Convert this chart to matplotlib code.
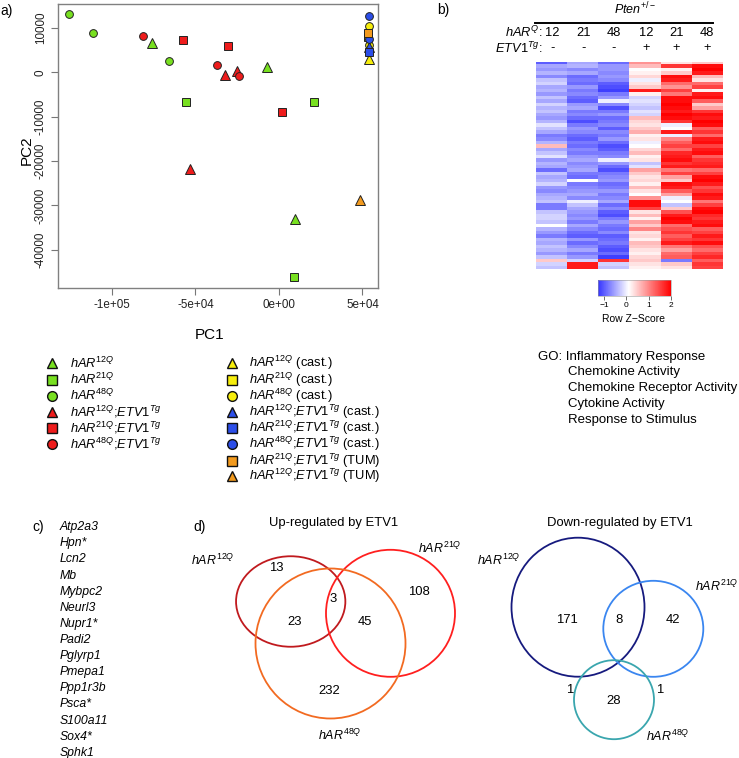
import numpy as np
import matplotlib
matplotlib.use('Agg')
import matplotlib.pyplot as plt
from matplotlib.patches import Ellipse
from matplotlib.colors import LinearSegmentedColormap, Normalize

plt.rcParams['font.family'] = ['Liberation Sans', 'DejaVu Sans']
plt.rcParams['mathtext.fontset'] = 'custom'
plt.rcParams['mathtext.rm'] = 'Liberation Sans'
plt.rcParams['mathtext.it'] = 'Liberation Sans:italic'
plt.rcParams['mathtext.bf'] = 'Liberation Sans:bold'

# ---------------- data ----------------
# PCA coordinates per group
pc1_h12 = [-76200, -7400, 9800]
pc2_h12 = [6500, 1130, -33040]
pc1_h21 = [-55500, 21000, 9000]
pc2_h21 = [-6690, -6690, -46100]
pc1_h48 = [-125700, -111200, -65700]
pc2_h48 = [13060, 8850, 2600]
pc1_e12 = [-32100, -25300, -53300]
pc2_e12 = [-700, 360, -21700]
pc1_e21 = [-57500, -30700, 1800]
pc2_e21 = [7200, 5850, -8940]
pc1_e48 = [-81200, -37300, -24000]
pc2_e48 = [8100, 1570, -830]
pc1_c12 = [53900]
pc2_c12 = [2930]
pc1_c21 = [53500]
pc2_c21 = [8000]
pc1_c48 = [54200, 53800]
pc2_c48 = [10430, 6150]
pc1_ce12 = [53700]
pc2_ce12 = [5600]
pc1_ce21 = [53800]
pc2_ce21 = [4640]
pc1_ce48 = [54100, 53900]
pc2_ce48 = [12750, 7430]
pc1_t21 = [53600]
pc2_t21 = [8920]
pc1_t12 = [48500]
pc2_t12 = [-28760]

pca_xticks = [-100000, -50000, 0, 50000]
pca_xticklabels = ['-1e+05', '-5e+04', '0e+00', '5e+04']
pca_yticks = [10000, 0, -10000, -20000, -30000, -40000]
pca_yticklabels = ['10000', '0', '-10000', '-20000', '-30000', '-40000']

# Heatmap (row z-scores), one list per column
z_12_neg = [-1.0,-0.5,-0.6,-0.4,-0.7,-0.3,-0.2,-0.5,-0.4,-0.6,
            -0.3,-0.5,-0.2,-0.4,-0.3,-0.5,-0.6,-0.4,-0.1,-0.3,
            -0.5,-0.8,-0.7,-0.4, 0.6,-0.5,-0.3,-0.1,-0.6,-0.4,
            -0.5,-0.9,-0.3,-0.5,-0.4,-0.2,-0.6,-0.7,-0.5,-0.4,
            -0.3,-0.8,-0.8,-0.3,-0.2,-0.2,-0.3, 0.1,-0.4,-0.6,
            -0.8,-0.4,-0.5,-0.3,-0.4,-0.6,-0.3, 0.5,-0.2,-0.3]
z_21_neg = [-0.5,-0.4,-0.7,-0.5,-0.9,-0.8,-0.9,-0.6,-0.8,-0.7,
            -0.9,-1.0,-0.6,-0.5,-0.8,-0.7,-0.9,-1.1,-0.8,-0.6,
            -0.7,-0.9,-1.0,-0.8,-0.9,-0.7,-0.8,-0.6,-0.5,-0.7,
            -0.6,-0.5,-0.8,-0.9, 0.1,-0.8,-0.7,-0.6,-0.5,-0.7,
             0.0,-0.3,-0.5,-0.6,-0.7,-0.6,-0.8,-0.5,-0.7,-0.9,
            -1.0,-0.6,-0.9,-0.7,-0.5,-0.8,-0.6,-0.2, 1.8, 1.8]
z_48_neg = [-0.9,-0.6,-0.6,-0.7,-0.6,-0.7,-1.0,-1.1,-1.2,-0.8,
            -0.6, 0.0,-0.7,-1.1,-0.8,-0.6,-0.9,-0.8,-0.7,-1.0,
            -0.7,-0.8,-0.6,-0.9,-1.1,-1.0,-0.8,-0.7, 0.0,-0.6,
            -0.9,-1.1,-0.8,-0.7,-0.6,-0.9,-0.8,-0.6,-0.8,-0.7,
            -0.5,-0.9,-0.7,-1.0,-1.1,-0.8,-0.6,-0.8,-0.9,-0.7,
            -1.0,-0.9,-0.8,-1.0,-1.1,-0.9,-1.2, 1.6,-0.2,-0.3]
z_12_pos = [0.9,0.6,0.1,0.2,0.4,0.0,0.3,0.5,1.8,0.2,
            -0.2,-0.1,-0.2,-0.3,-0.1,-0.2,0.6,0.4,0.3,0.5,
            0.7,0.2,0.3,0.0,0.1,0.4,0.6,0.2,0.3,-0.3,
            -0.1,0.8,0.5,0.3,0.4,0.2,0.6,0.3,0.1,0.9,
            1.9,1.9,1.5,0.3,0.6,0.2,0.8,0.5,1.0,0.3,
            0.4,0.2,0.6,0.5,0.3,0.2,0.4,0.5,0.3,0.2]
z_21_pos = [0.3,1.6,0.2,0.5,1.9,1.8,1.2,0.9,1.5,1.1,
            1.9,1.9,2.0,1.9,1.8,2.0,1.9,1.6,0.0,0.1,
            1.8,0.0,1.0,1.3,1.5,1.2,1.7,1.8,1.9,1.6,
            1.8,1.1,1.5,0.8,0.5,1.9,1.8,1.3,0.8,0.0,
            0.1,-0.3,0.5,1.4,1.8,2.0,1.9,1.2,1.4,1.6,
            1.3,1.5,1.8,1.1,0.8,1.2,1.3,-0.8,0.5,0.3]
z_48_pos = [0.5,1.9,2.0,1.8,0.6,0.3,1.2,1.5,0.2,1.8,
            1.9,1.3,0.5,0.8,1.6,1.9,1.8,2.0,1.9,1.3,
            1.6,1.2,1.8,1.9,1.5,1.8,1.9,1.3,1.6,1.7,
            1.8,1.2,1.5,1.9,2.0,1.8,1.4,1.6,1.9,1.8,
            1.1,1.5,1.9,2.0,1.7,1.6,1.8,1.9,1.3,1.5,
            1.8,1.6,1.9,1.4,1.2,1.5,1.7,1.3,1.6,1.5]
har_q_labels = ['12', '21', '48', '12', '21', '48']
etv1_labels = ['-', '-', '-', '+', '+', '+']
cbar_ticks = [-1, 0, 1, 2]

go_terms = ['Inflammatory Response', 'Chemokine Activity',
            'Chemokine Receptor Activity', 'Cytokine Activity',
            'Response to Stimulus']
genes = ['Atp2a3', 'Hpn*', 'Lcn2', 'Mb', 'Mybpc2', 'Neurl3', 'Nupr1*',
         'Padi2', 'Pglyrp1', 'Pmepa1', 'Ppp1r3b', 'Psca*', 'S100a11',
         'Sox4*', 'Sphk1']

# Venn counts: 12Q only, 12Q&48Q, all three, 21Q&48Q, 21Q only, 48Q only
up_counts = [13, 23, 3, 45, 108, 232]
# Venn counts: 12Q only, 12Q&21Q, 21Q only, 12Q&48Q, 48Q only, 21Q&48Q
down_counts = [171, 8, 42, 1, 28, 1]

# ---------------- figure ----------------
W, H = 739, 758
fig = plt.figure(figsize=(W / 100, H / 100), dpi=100)


def fax(l, t, w, h):
    return fig.add_axes([l / W, 1 - (t + h) / H, w / W, h / H])


ov = fax(0, 0, W, H)
ov.set_xlim(0, W)
ov.set_ylim(H, 0)
ov.axis('off')

GREEN = '#78e020'
RED = '#ee1c1c'
YELLOW = '#f7ee0c'
BLUE = '#2c4ee8'
ORANGE = '#f29a1e'

groups = [
    (pc1_h12, pc2_h12, '^', GREEN, r'$\mathit{hAR}^{\mathit{12Q}}$'),
    (pc1_h21, pc2_h21, 's', GREEN, r'$\mathit{hAR}^{\mathit{21Q}}$'),
    (pc1_h48, pc2_h48, 'o', GREEN, r'$\mathit{hAR}^{\mathit{48Q}}$'),
    (pc1_e12, pc2_e12, '^', RED, r'$\mathit{hAR}^{\mathit{12Q}}$;$\mathit{ETV1}^{\mathit{Tg}}$'),
    (pc1_e21, pc2_e21, 's', RED, r'$\mathit{hAR}^{\mathit{21Q}}$;$\mathit{ETV1}^{\mathit{Tg}}$'),
    (pc1_e48, pc2_e48, 'o', RED, r'$\mathit{hAR}^{\mathit{48Q}}$;$\mathit{ETV1}^{\mathit{Tg}}$'),
    (pc1_c12, pc2_c12, '^', YELLOW, r'$\mathit{hAR}^{\mathit{12Q}}$ (cast.)'),
    (pc1_c21, pc2_c21, 's', YELLOW, r'$\mathit{hAR}^{\mathit{21Q}}$ (cast.)'),
    (pc1_c48, pc2_c48, 'o', YELLOW, r'$\mathit{hAR}^{\mathit{48Q}}$ (cast.)'),
    (pc1_ce12, pc2_ce12, '^', BLUE, r'$\mathit{hAR}^{\mathit{12Q}}$;$\mathit{ETV1}^{\mathit{Tg}}$ (cast.)'),
    (pc1_ce21, pc2_ce21, 's', BLUE, r'$\mathit{hAR}^{\mathit{21Q}}$;$\mathit{ETV1}^{\mathit{Tg}}$ (cast.)'),
    (pc1_ce48, pc2_ce48, 'o', BLUE, r'$\mathit{hAR}^{\mathit{48Q}}$;$\mathit{ETV1}^{\mathit{Tg}}$ (cast.)'),
    (pc1_t21, pc2_t21, 's', ORANGE, r'$\mathit{hAR}^{\mathit{21Q}}$;$\mathit{ETV1}^{\mathit{Tg}}$ (TUM)'),
    (pc1_t12, pc2_t12, '^', ORANGE, r'$\mathit{hAR}^{\mathit{12Q}}$;$\mathit{ETV1}^{\mathit{Tg}}$ (TUM)'),
]
msize = {'^': 7.5, 's': 5.2, 'o': 5.6}
lsize = {'^': 7.0, 's': 6.6, 'o': 7.0}

# ---------------- panel a: PCA ----------------
ax = fax(58, 4, 320, 284)
for xs, ys, m, c, lab in groups:
    ax.plot(xs, ys, linestyle='none', marker=m, ms=msize[m], mfc=c,
            mec='#222222', mew=0.7)
ax.set_xlim(-132300, 59300)
ax.set_ylim(-48580, 15380)
ax.set_xticks(pca_xticks)
ax.set_xticklabels(pca_xticklabels)
ax.set_yticks(pca_yticks)
ax.set_yticklabels(pca_yticklabels, rotation=90, va='center')
ax.tick_params(labelsize=8.4, length=5, width=0.8, color='#777777',
               labelcolor='#222222', pad=3)
for s in ax.spines.values():
    s.set_color('#808080')
    s.set_linewidth(1.0)
ov.text(210, 335, 'PC1', fontsize=11, ha='center', va='center')
ov.text(27, 150, 'PC2', fontsize=11, ha='center', va='center', rotation=90)
ov.text(0, 11, 'a)', fontsize=10, ha='left', va='center')

# legend (two columns, drawn manually)
leg_rows1 = [363.3, 379.5, 395.7, 411.9, 428.1, 444.3]
leg_rows2 = leg_rows1 + [460.5, 476.0]
for i, (xs, ys, m, c, lab) in enumerate(groups):
    if i < 6:
        mx, tx, ty = 52, 70, leg_rows1[i]
    else:
        mx, tx, ty = 232, 249, leg_rows2[i - 6]
    ov.plot([mx], [ty], linestyle='none', marker=m, ms=lsize[m], mfc=c,
            mec='#111111', mew=1.0)
    ov.text(tx, ty, lab, fontsize=9.3, ha='left', va='center')

# ---------------- panel b: heatmap ----------------
ov.text(437, 10, 'b)', fontsize=10, ha='left', va='center')
ov.text(634.5, 9, r'$\mathit{Pten}^{\mathit{+/-}}$', fontsize=9, ha='center', va='center')
ov.plot([535, 713], [22.5, 22.5], color='black', lw=1.4)
ov.text(543, 32.5, r'$\mathit{hAR}^{\mathit{Q}}$:', fontsize=9.3, ha='right', va='center')
ov.text(543, 48.5, r'$\mathit{ETV1}^{\mathit{Tg}}$:', fontsize=9.3, ha='right', va='center')

zmat = np.array([z_12_neg, z_21_neg, z_48_neg, z_12_pos, z_21_pos, z_48_pos]).T
cmap = LinearSegmentedColormap.from_list(
    'bwr_hm', [(0.0, '#3232ff'), (0.424, '#ffffff'), (1.0, '#ff0000')])
norm = Normalize(vmin=-1.3, vmax=2.0)
hax = fax(536, 61.7, 187, 207.3)
im = hax.imshow(zmat, aspect='auto', interpolation='nearest', cmap=cmap, norm=norm)
hax.set_axis_off()
col_x = [552.5, 583.2, 613.8, 646.0, 676.2, 707.3]
for j in range(6):
    ov.text(col_x[j], 32.5, har_q_labels[j], fontsize=9.3, ha='center', va='center')
    ov.text(col_x[j], 48.5, etv1_labels[j], fontsize=9.3, ha='center', va='center')

cax = fax(597.5, 279.5, 73.5, 16.5)
cb = fig.colorbar(im, cax=cax, orientation='horizontal')
cb.set_ticks(cbar_ticks)
cb.set_ticklabels(['\u22121', '0', '1', '2'])
cb.ax.tick_params(labelsize=6, length=3, width=0.6, color='#555555', pad=1)
cb.outline.set_linewidth(0.4)
cb.outline.set_edgecolor('#999999')
ov.text(634, 318.5, 'Row Z\u2212Score', fontsize=7.5, ha='center', va='center')

ov.text(538.3, 356.7, 'GO: ' + go_terms[0], fontsize=9.5, ha='left', va='center')
for k, term in enumerate(go_terms[1:]):
    ov.text(567.7, 372.5 + 15.8 * k, term, fontsize=9.5, ha='left', va='center')

# ---------------- panel c: genes ----------------
ov.text(32, 527.3, 'c)', fontsize=10, ha='left', va='center')
for k, g in enumerate(genes):
    ov.text(60, 527.3 + 16.1 * k, g, fontsize=8.8, style='italic',
            ha='left', va='center')

# ---------------- panel d: Venn diagrams ----------------
ov.text(193, 527.3, 'd)', fontsize=10, ha='left', va='center')
ov.text(333.3, 523.3, 'Up-regulated by ETV1', fontsize=9.4, ha='center', va='center')
ov.text(620, 523.3, 'Down-regulated by ETV1', fontsize=9.4, ha='center', va='center')

# up-regulated circles
ov.add_patch(Ellipse((290.7, 601.5), 109.3, 90.5, fill=False, ec='#c01a1e', lw=1.3))
ov.add_patch(Ellipse((390.5, 613.3), 129, 127, fill=False, ec='#ff1f1f', lw=1.3))
ov.add_patch(Ellipse((330.5, 643.5), 150, 150, fill=False, ec='#f26a21', lw=1.3))
up_pos = [(276, 568.3), (295, 621.7), (333.3, 599.3), (365, 621.7), (419, 591.7), (329, 690.7)]
for (px, py), n in zip(up_pos, up_counts):
    ov.text(px, py, str(n), fontsize=9.4, ha='center', va='center')
ov.text(234, 560, r'$\mathit{hAR}^{\mathit{12Q}}$', fontsize=9, ha='right', va='center')
ov.text(418, 548, r'$\mathit{hAR}^{\mathit{21Q}}$', fontsize=9, ha='left', va='center')
ov.text(318, 735, r'$\mathit{hAR}^{\mathit{48Q}}$', fontsize=9, ha='left', va='center')

# down-regulated circles
ov.add_patch(Ellipse((578, 607.2), 133, 139, fill=False, ec='#161a7e', lw=1.3))
ov.add_patch(Ellipse((653.3, 628.8), 100, 96, fill=False, ec='#3a86f0', lw=1.3))
ov.add_patch(Ellipse((614, 699.7), 80, 79, fill=False, ec='#3aa6ae', lw=1.3))
down_pos = [(567.3, 620), (619, 620), (672.7, 620), (569.3, 690), (613.3, 700.7), (659.3, 690)]
for (px, py), n in zip(down_pos, down_counts):
    ov.text(px, py, str(n), fontsize=9.4, ha='center', va='center')
ov.text(520, 560, r'$\mathit{hAR}^{\mathit{12Q}}$', fontsize=9, ha='right', va='center')
ov.text(695, 586.7, r'$\mathit{hAR}^{\mathit{21Q}}$', fontsize=9, ha='left', va='center')
ov.text(646, 736.7, r'$\mathit{hAR}^{\mathit{48Q}}$', fontsize=9, ha='left', va='center')

fig.savefig('out.png', dpi=100)
